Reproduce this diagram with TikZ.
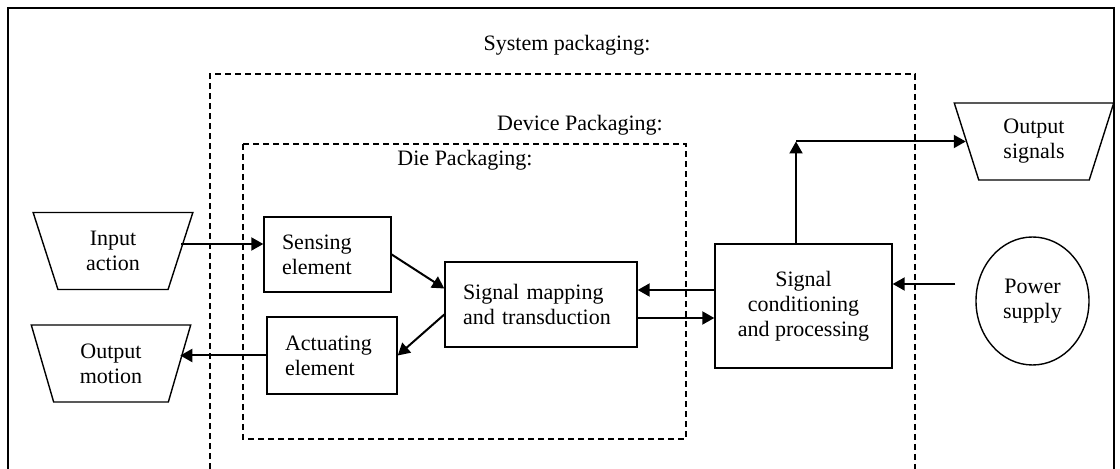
\documentclass[tikz,border=0pt]{standalone}
\usepackage{fontspec}
\setmainfont{Liberation Serif}
\usetikzlibrary{shapes.geometric, arrows.meta, calc}
\tikzset{txt/.style={font=\fontsize{11pt}{12.5pt}\selectfont}}
\tikzset{blk/.style={txt, draw, line width=0.7pt, inner xsep=9pt, align=left}}
\tikzset{trap/.style={txt, draw, line width=0.7pt, trapezium, shape border rotate=180, trapezium angle=73, trapezium stretches=true, minimum width=80pt, minimum height=38.5pt, align=center, inner sep=0pt}}
\tikzset{arr/.style={line width=1pt, -{Triangle[length=6pt,width=6.5pt]}}}
\tikzset{pkg/.style={line width=0.65pt, dash pattern=on 3pt off 2pt}}

\begin{document}
\begin{tikzpicture}[x=0.5pt, y=-0.5pt]
\useasboundingbox (0,0) rectangle (1120,469);

% frame and packaging levels
\draw[line width=1.1pt] (8,469) -- (8,8) -- (1114,8) -- (1114,469);
\draw[pkg] (210,469) -- (210,74) -- (915,74) -- (915,469);
\draw[pkg] (243,144) rectangle (686,439);
\node[txt] (syslbl) at (567,45) {System packaging:};
\node[txt] (devlbl) at (580,125) {Device Packaging:};
\node[txt] (dielbl) at (465,160) {Die Packaging:};

% blocks
\node[trap] (inp) at (113,251) {Input\\action};
\node[trap] (outmot) at (111,363.5) {Output\\motion};
\node[trap] (outsig) at (1034,141.5) {Output\\signals};
\node[blk, text width=45.5pt, minimum height=37.5pt] (sense) at (327.5,254.5) {Sensing\\element};
\node[blk, text width=47pt, minimum height=38.5pt] (act) at (332,355.5) {Actuating\\element};
\node[blk, text width=78pt, minimum height=42.5pt] (map) at (541,304.5) {Signal mapping\\and transduction};
\node[txt, draw, line width=0.7pt, align=center, minimum width=88.5pt, minimum height=62pt] (cond) at (803.5,306) {Signal\\conditioning\\and processing};
\node[txt, draw, line width=0.7pt, ellipse, align=center, minimum width=56.5pt, minimum height=64pt, inner sep=0pt] (power) at (1032.5,301) {Power\\supply};

% connectors
\draw[arr] ([yshift=3.5pt]inp.east) -- ([yshift=3.5pt]inp.east -| sense.west);
\draw[arr] (act.west) -- (act.west -| outmot.east);
\draw[arr] (sense.east) -- ([yshift=8pt]map.west);
\draw[arr] ([yshift=-5pt]map.west) -- (act.east);
\draw[arr] ([yshift=7.25pt]map.east -| cond.west) -- ([yshift=7.25pt]map.east);
\draw[arr] ([yshift=-6.75pt]map.east) -- ([yshift=-6.75pt]map.east -| cond.west);
\coordinate (corner) at ([xshift=-3.75pt]cond.north |- outsig.west);
\draw[arr] ([xshift=-3.75pt]cond.north) -- (corner);
\draw[arr] (corner) -- (outsig.west);
\draw[arr, shorten <=10pt] ([yshift=11pt]cond.east -| power.west) -- ([yshift=11pt]cond.east);
\end{tikzpicture}
\end{document}
